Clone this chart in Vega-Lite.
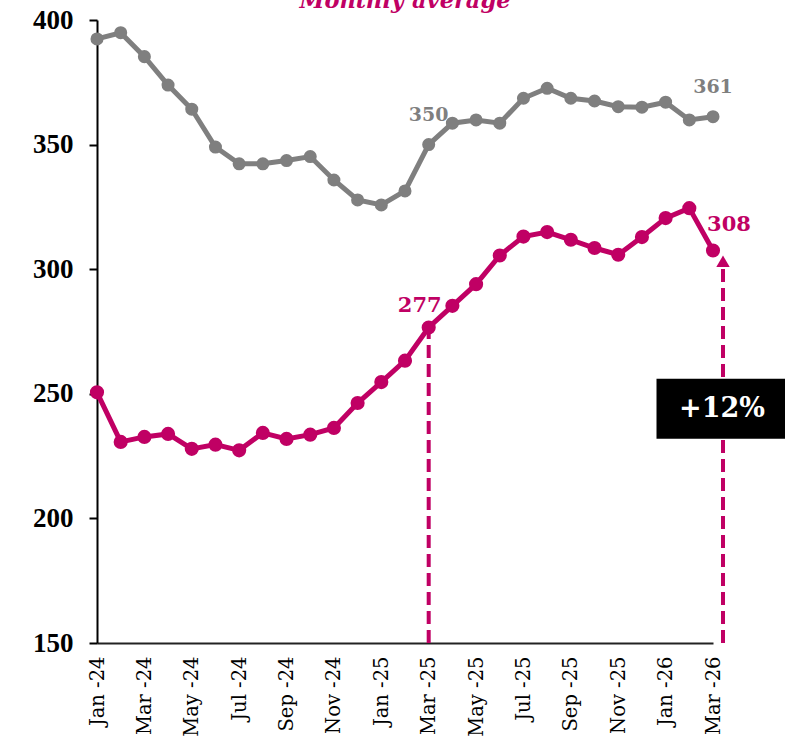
{
  "$schema": "https://vega.github.io/schema/vega-lite/v6.json",
  "width": 616,
  "height": 623,
  "autosize": {"type": "none"},
  "padding": {"left": 97, "top": 20, "right": 72, "bottom": 98},
  "background": "white",
  "title": {"text": "Monthly average", "color": "#C00064", "font": "DejaVu Serif", "fontSize": 22.5, "fontWeight": "bold", "fontStyle": "italic", "anchor": "middle", "offset": -6},
  "config": {"view": {"stroke": null}},
  "datasets": {
    "series": [
      {"month": "Jan-24", "grey": 392.4, "magenta": 250.6},
      {"month": "Feb-24", "grey": 394.9, "magenta": 230.7},
      {"month": "Mar-24", "grey": 385.3, "magenta": 232.7},
      {"month": "Apr-24", "grey": 373.9, "magenta": 233.9},
      {"month": "May-24", "grey": 364.2, "magenta": 227.9},
      {"month": "Jun-24", "grey": 349.0, "magenta": 229.6},
      {"month": "Jul-24", "grey": 342.3, "magenta": 227.3},
      {"month": "Aug-24", "grey": 342.3, "magenta": 234.3},
      {"month": "Sep-24", "grey": 343.6, "magenta": 231.9},
      {"month": "Oct-24", "grey": 345.2, "magenta": 233.6},
      {"month": "Nov-24", "grey": 335.8, "magenta": 236.3},
      {"month": "Dec-24", "grey": 327.8, "magenta": 246.3},
      {"month": "Jan-25", "grey": 325.8, "magenta": 254.7},
      {"month": "Feb-25", "grey": 331.4, "magenta": 263.3},
      {"month": "Mar-25", "grey": 350.0, "magenta": 276.6},
      {"month": "Apr-25", "grey": 358.6, "magenta": 285.3},
      {"month": "May-25", "grey": 359.9, "magenta": 294.0},
      {"month": "Jun-25", "grey": 358.6, "magenta": 305.5},
      {"month": "Jul-25", "grey": 368.6, "magenta": 313.1},
      {"month": "Aug-25", "grey": 372.6, "magenta": 314.9},
      {"month": "Sep-25", "grey": 368.6, "magenta": 311.8},
      {"month": "Oct-25", "grey": 367.5, "magenta": 308.5},
      {"month": "Nov-25", "grey": 365.2, "magenta": 305.8},
      {"month": "Dec-25", "grey": 365.0, "magenta": 312.9},
      {"month": "Jan-26", "grey": 367.0, "magenta": 320.5},
      {"month": "Feb-26", "grey": 359.9, "magenta": 324.5},
      {"month": "Mar-26", "grey": 361.2, "magenta": 307.5}
    ],
    "rule_start": [{"month": "Mar-25", "y0": 150, "y1": 276.6}],
    "rule_end": [{"month": "Mar-26", "y0": 150, "y1": 301, "head": 303.2}],
    "grey_labels": [
      {"month": "Mar-25", "value": 350.0, "label": "350"},
      {"month": "Mar-26", "value": 361.2, "label": "361"}
    ],
    "label_start": [{"month": "Mar-25", "value": 276.6, "label": "277"}],
    "label_end": [{"month": "Mar-26", "value": 307.5, "label": "308"}],
    "change": [{"month": "Mar-26", "value": 244.0, "label": "+12%"}]
  },
  "encoding": {
    "x": {
      "field": "month",
      "type": "ordinal",
      "sort": null,
      "scale": {
        "type": "point",
        "padding": 0,
        "domain": ["Jan-24","Feb-24","Mar-24","Apr-24","May-24","Jun-24","Jul-24","Aug-24","Sep-24","Oct-24","Nov-24","Dec-24","Jan-25","Feb-25","Mar-25","Apr-25","May-25","Jun-25","Jul-25","Aug-25","Sep-25","Oct-25","Nov-25","Dec-25","Jan-26","Feb-26","Mar-26"]
      },
      "axis": {
        "values": ["Jan-24","Mar-24","May-24","Jul-24","Sep-24","Nov-24","Jan-25","Mar-25","May-25","Jul-25","Sep-25","Nov-25","Jan-26","Mar-26"],
        "labelExpr": "replace(datum.label, '-', ' -')",
        "labelAngle": -90,
        "ticks": false,
        "labelPadding": 13,
        "labelFont": "DejaVu Serif",
        "labelFontSize": 19.5,
        "labelColor": "black",
        "labelOverlap": false,
        "domainColor": "#222222",
        "domainWidth": 2,
        "grid": false,
        "title": null
      }
    }
  },
  "layer": [
    {
      "data": {"name": "rule_start"},
      "mark": {"type": "rule", "color": "#C00064", "strokeWidth": 4, "strokeDash": [13, 6]},
      "encoding": {
        "y": {"field": "y0", "type": "quantitative", "title": null, "scale": {"domain": [150, 400], "nice": false, "zero": false},
          "axis": {"values": [150, 200, 250, 300, 350, 400], "tickSize": 8, "tickWidth": 2, "tickColor": "black", "domainColor": "black", "domainWidth": 2, "labelFont": "Liberation Serif", "labelFontWeight": "bold", "labelFontSize": 27, "labelColor": "black", "labelPadding": 16, "grid": false, "title": null}},
        "y2": {"field": "y1"}
      }
    },
    {
      "data": {"name": "rule_end"},
      "mark": {"type": "rule", "color": "#C00064", "strokeWidth": 4, "strokeDash": [13, 6], "xOffset": 10},
      "encoding": {
        "y": {"field": "y0", "type": "quantitative", "title": null},
        "y2": {"field": "y1"}
      }
    },
    {
      "data": {"name": "rule_end"},
      "mark": {"type": "point", "shape": "triangle-up", "size": 180, "filled": true, "opacity": 1, "color": "#C00064", "xOffset": 10},
      "encoding": {
        "y": {"field": "head", "type": "quantitative", "title": null}
      }
    },
    {
      "data": {"name": "series"},
      "mark": {"type": "line", "color": "#7F7F7F", "strokeWidth": 5, "point": {"filled": true, "size": 170, "color": "#7F7F7F", "opacity": 1}},
      "encoding": {
        "y": {"field": "grey", "type": "quantitative", "title": null}
      }
    },
    {
      "data": {"name": "series"},
      "mark": {"type": "line", "color": "#C00064", "strokeWidth": 5, "point": {"filled": true, "size": 200, "color": "#C00064", "opacity": 1}},
      "encoding": {
        "y": {"field": "magenta", "type": "quantitative", "title": null}
      }
    },
    {
      "data": {"name": "change"},
      "mark": {"type": "point", "shape": "M-1,-0.451L1,-0.451L1,0.451L-1,0.451Z", "size": 17689, "filled": true, "opacity": 1, "color": "black", "xOffset": 10},
      "encoding": {
        "y": {"field": "value", "type": "quantitative", "title": null}
      }
    },
    {
      "data": {"name": "change"},
      "mark": {"type": "text", "color": "white", "font": "DejaVu Serif", "fontWeight": "bold", "fontSize": 27, "baseline": "middle", "align": "center", "dx": 9},
      "encoding": {
        "y": {"field": "value", "type": "quantitative", "title": null},
        "text": {"field": "label"}
      }
    },
    {
      "data": {"name": "grey_labels"},
      "mark": {"type": "text", "color": "#7F7F7F", "font": "DejaVu Serif", "fontWeight": "bold", "fontSize": 19, "baseline": "middle", "align": "center", "dy": -30},
      "encoding": {
        "y": {"field": "value", "type": "quantitative", "title": null},
        "text": {"field": "label"}
      }
    },
    {
      "data": {"name": "label_start"},
      "mark": {"type": "text", "color": "#C00064", "font": "DejaVu Serif", "fontWeight": "bold", "fontSize": 21, "baseline": "middle", "align": "center", "dx": -9, "dy": -22},
      "encoding": {
        "y": {"field": "value", "type": "quantitative", "title": null},
        "text": {"field": "label"}
      }
    },
    {
      "data": {"name": "label_end"},
      "mark": {"type": "text", "color": "#C00064", "font": "DejaVu Serif", "fontWeight": "bold", "fontSize": 21, "baseline": "middle", "align": "center", "dx": 16, "dy": -26},
      "encoding": {
        "y": {"field": "value", "type": "quantitative", "title": null},
        "text": {"field": "label"}
      }
    }
  ]
}
